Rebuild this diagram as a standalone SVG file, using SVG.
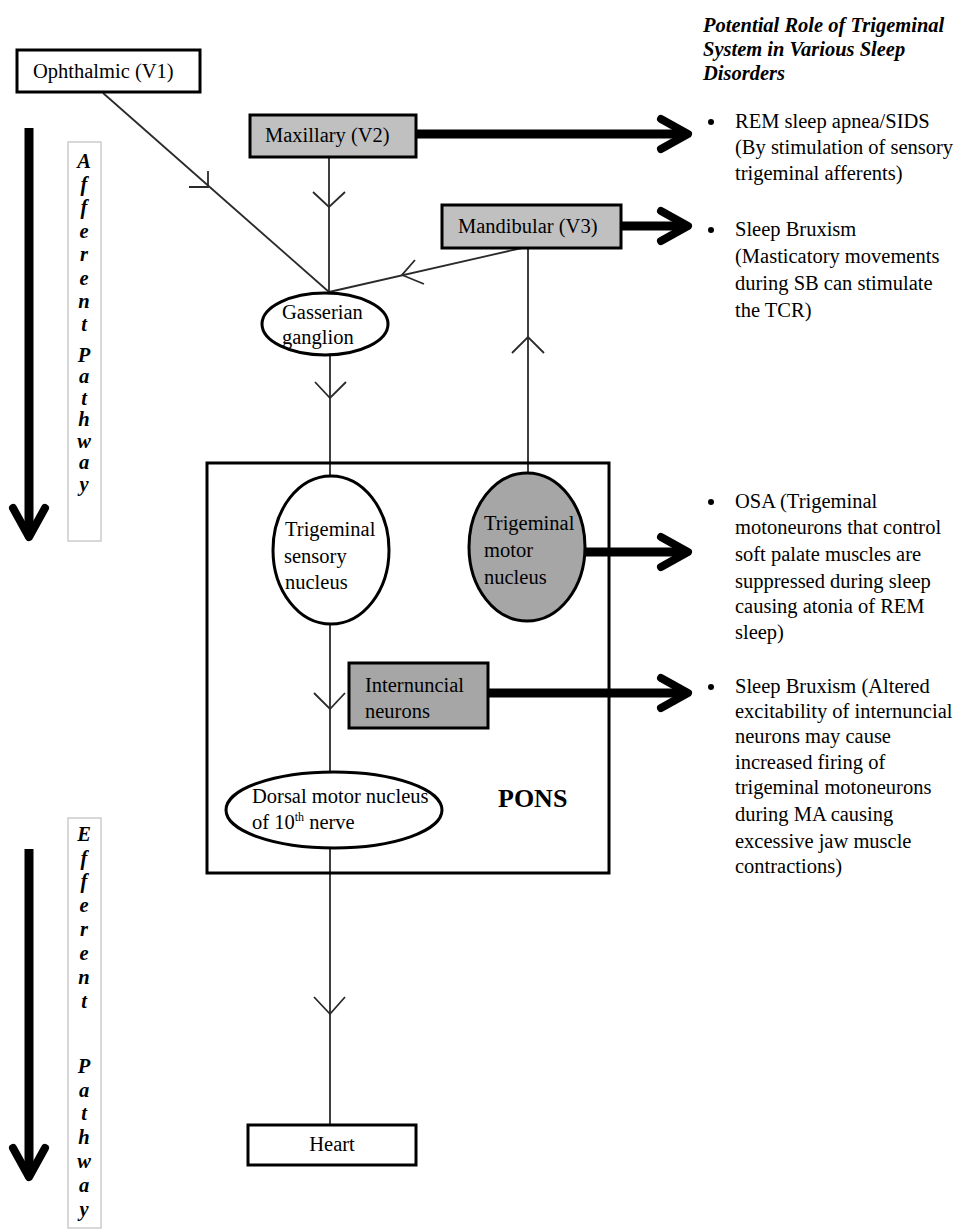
<svg xmlns="http://www.w3.org/2000/svg" width="965" height="1231" viewBox="0 0 965 1231">
<style>
.t{font-family:"Liberation Serif","Times New Roman",serif;font-size:20.5px;fill:#000}
.bi{font-family:"Liberation Serif","Times New Roman",serif;font-size:20.5px;font-weight:bold;font-style:italic;fill:#000}
.box{stroke:#000;stroke-width:3}
.ln{stroke:#2a2a2a;stroke-width:1.8;fill:none}
.thick{stroke:#000;stroke-width:9;fill:none}
.head{stroke:#000;stroke-width:8;fill:none;stroke-linecap:round;stroke-linejoin:round}
.lbl{fill:#fff;stroke:#ccc;stroke-width:1.5}
</style>
<rect width="965" height="1231" fill="#fff"/>

<g id="connectors">
  <line class="ln" x1="103" y1="93" x2="329" y2="292"/>
  <polyline class="ln" points="189,187 208,187 208,171"/>
  <line class="ln" x1="329" y1="157" x2="329" y2="292"/>
  <polyline class="ln" points="313,192 329,207 345,192"/>
  <line class="ln" x1="522" y1="248" x2="329" y2="292"/>
  <polyline class="ln" points="415,260 402,275 424,284"/>
  <line class="ln" x1="330" y1="355" x2="330" y2="476"/>
  <polyline class="ln" points="315,382 330,398 346,382"/>
  <line class="ln" x1="528" y1="248" x2="528" y2="473"/>
  <polyline class="ln" points="512,353 528,337 544,353"/>
  <line class="ln" x1="330" y1="624" x2="330" y2="772"/>
  <polyline class="ln" points="314,693 330,709 345,693"/>
  <line class="ln" x1="330" y1="847" x2="330" y2="1125"/>
  <polyline class="ln" points="314,997 330,1014 345,997"/>
  <line class="thick" x1="416" y1="134" x2="686" y2="134"/>
  <polyline class="head" points="661,119 688,134 661,149"/>
  <line class="thick" x1="621" y1="226" x2="686" y2="226"/>
  <polyline class="head" points="661,211 688,226 661,241"/>
  <line class="thick" x1="585" y1="552" x2="686" y2="552"/>
  <polyline class="head" points="661,537 688,552 661,567"/>
  <line class="thick" x1="488" y1="693" x2="686" y2="693"/>
  <polyline class="head" points="661,678 688,693 661,708"/>
  <line class="thick" x1="29" y1="128" x2="29" y2="534"/>
  <polyline class="head" points="13,508 29,537 45,508"/>
  <line class="thick" x1="29" y1="849" x2="29" y2="1174"/>
  <polyline class="head" points="13,1148 29,1177 45,1148"/>
</g>

<g id="pons">
  <rect x="207" y="463" width="402" height="410" fill="none" stroke="#000" stroke-width="3"/>
  <text x="498" y="807" style="font-family:'Liberation Serif','Times New Roman',serif;font-size:26px;font-weight:bold">PONS</text>
</g>

<g id="ophthalmic">
  <rect class="box" x="17" y="50" width="183" height="42" fill="#fff"/>
  <text class="t" x="33" y="78">Ophthalmic (V1)</text>
</g>

<g id="maxillary">
  <rect class="box" x="250" y="115" width="166" height="42" fill="#c0c0c0"/>
  <text class="t" x="265" y="142">Maxillary (V2)</text>
</g>

<g id="mandibular">
  <rect class="box" x="442" y="205" width="179" height="43" fill="#c0c0c0"/>
  <text class="t" x="458" y="233">Mandibular (V3)</text>
</g>

<g id="gasserian">
  <ellipse cx="325" cy="324" rx="63" ry="31" fill="#fff" stroke="#000" stroke-width="3"/>
  <text class="t" x="282" y="319">Gasserian</text>
  <text class="t" x="282" y="344">ganglion</text>
</g>

<g id="sensory">
  <ellipse cx="331" cy="550" rx="58" ry="74" fill="#fff" stroke="#000" stroke-width="3"/>
  <text class="t" x="285" y="536">Trigeminal</text>
  <text class="t" x="284" y="563">sensory</text>
  <text class="t" x="285" y="589">nucleus</text>
</g>

<g id="motor">
  <ellipse cx="527" cy="547" rx="58" ry="74" fill="#a6a6a6" stroke="#000" stroke-width="3"/>
  <text class="t" x="484" y="530">Trigeminal</text>
  <text class="t" x="484" y="557">motor</text>
  <text class="t" x="484" y="584">nucleus</text>
</g>

<g id="internuncial">
  <rect class="box" x="349" y="663" width="139" height="65" fill="#a6a6a6"/>
  <text class="t" x="365" y="692">Internuncial</text>
  <text class="t" x="365" y="718">neurons</text>
</g>

<g id="dorsal">
  <ellipse cx="334" cy="810" rx="108" ry="38" fill="#fff" stroke="#000" stroke-width="3"/>
  <text class="t" x="252" y="803">Dorsal motor nucleus</text>
  <text class="t" x="252" y="829">of 10<tspan font-size="12" dy="-8">th</tspan><tspan dy="8"> nerve</tspan></text>
</g>

<g id="heart">
  <rect class="box" x="248" y="1125" width="168" height="40" fill="#fff"/>
  <text class="t" x="332" y="1151" text-anchor="middle">Heart</text>
</g>

<g id="afferent-label">
  <rect class="lbl" x="68" y="142" width="33" height="399"/>
  <g class="bi" text-anchor="middle">
    <text x="84" y="168">A</text>
    <text x="84" y="191">f</text>
    <text x="84" y="214">f</text>
    <text x="84" y="238">e</text>
    <text x="84" y="261">r</text>
    <text x="84" y="285">e</text>
    <text x="84" y="308">n</text>
    <text x="84" y="331">t</text>
    <text x="84" y="362">P</text>
    <text x="84" y="383">a</text>
    <text x="84" y="405">t</text>
    <text x="84" y="426">h</text>
    <text x="84" y="448">w</text>
    <text x="84" y="469">a</text>
    <text x="84" y="491">y</text>
  </g>
</g>

<g id="efferent-label">
  <rect class="lbl" x="68" y="818" width="33" height="410"/>
  <g class="bi" text-anchor="middle">
    <text x="84" y="841">E</text>
    <text x="84" y="865">f</text>
    <text x="84" y="888">f</text>
    <text x="84" y="912">e</text>
    <text x="84" y="936">r</text>
    <text x="84" y="960">e</text>
    <text x="84" y="984">n</text>
    <text x="84" y="1008">t</text>
    <text x="84" y="1073">P</text>
    <text x="84" y="1097">a</text>
    <text x="84" y="1120">t</text>
    <text x="84" y="1144">h</text>
    <text x="84" y="1168">w</text>
    <text x="84" y="1192">a</text>
    <text x="84" y="1216">y</text>
  </g>
</g>

<g id="disorders">
  <text class="bi" x="703" y="32">Potential Role of Trigeminal</text>
  <text class="bi" x="703" y="56">System in Various Sleep</text>
  <text class="bi" x="703" y="80">Disorders</text>

  <circle cx="711" cy="122" r="3" fill="#000"/>
  <text class="t" x="735" y="128">REM sleep apnea/SIDS</text>
  <text class="t" x="735" y="154">(By stimulation of sensory</text>
  <text class="t" x="735" y="180">trigeminal afferents)</text>

  <circle cx="711" cy="230" r="3" fill="#000"/>
  <text class="t" x="735" y="236">Sleep Bruxism</text>
  <text class="t" x="735" y="263">(Masticatory movements</text>
  <text class="t" x="735" y="290">during SB can stimulate</text>
  <text class="t" x="735" y="317">the TCR)</text>

  <circle cx="711" cy="502" r="3" fill="#000"/>
  <text class="t" x="735" y="508">OSA (Trigeminal</text>
  <text class="t" x="735" y="534">motoneurons that control</text>
  <text class="t" x="735" y="561">soft palate muscles are</text>
  <text class="t" x="735" y="588">suppressed during sleep</text>
  <text class="t" x="735" y="613">causing atonia of REM</text>
  <text class="t" x="735" y="639">sleep)</text>

  <circle cx="711" cy="687" r="3" fill="#000"/>
  <text class="t" x="735" y="693">Sleep Bruxism (Altered</text>
  <text class="t" x="735" y="718">excitability of internuncial</text>
  <text class="t" x="735" y="743">neurons may cause</text>
  <text class="t" x="735" y="769">increased firing of</text>
  <text class="t" x="735" y="794">trigeminal motoneurons</text>
  <text class="t" x="735" y="821">during MA causing</text>
  <text class="t" x="735" y="848">excessive jaw muscle</text>
  <text class="t" x="735" y="873">contractions)</text>
</g>
</svg>
